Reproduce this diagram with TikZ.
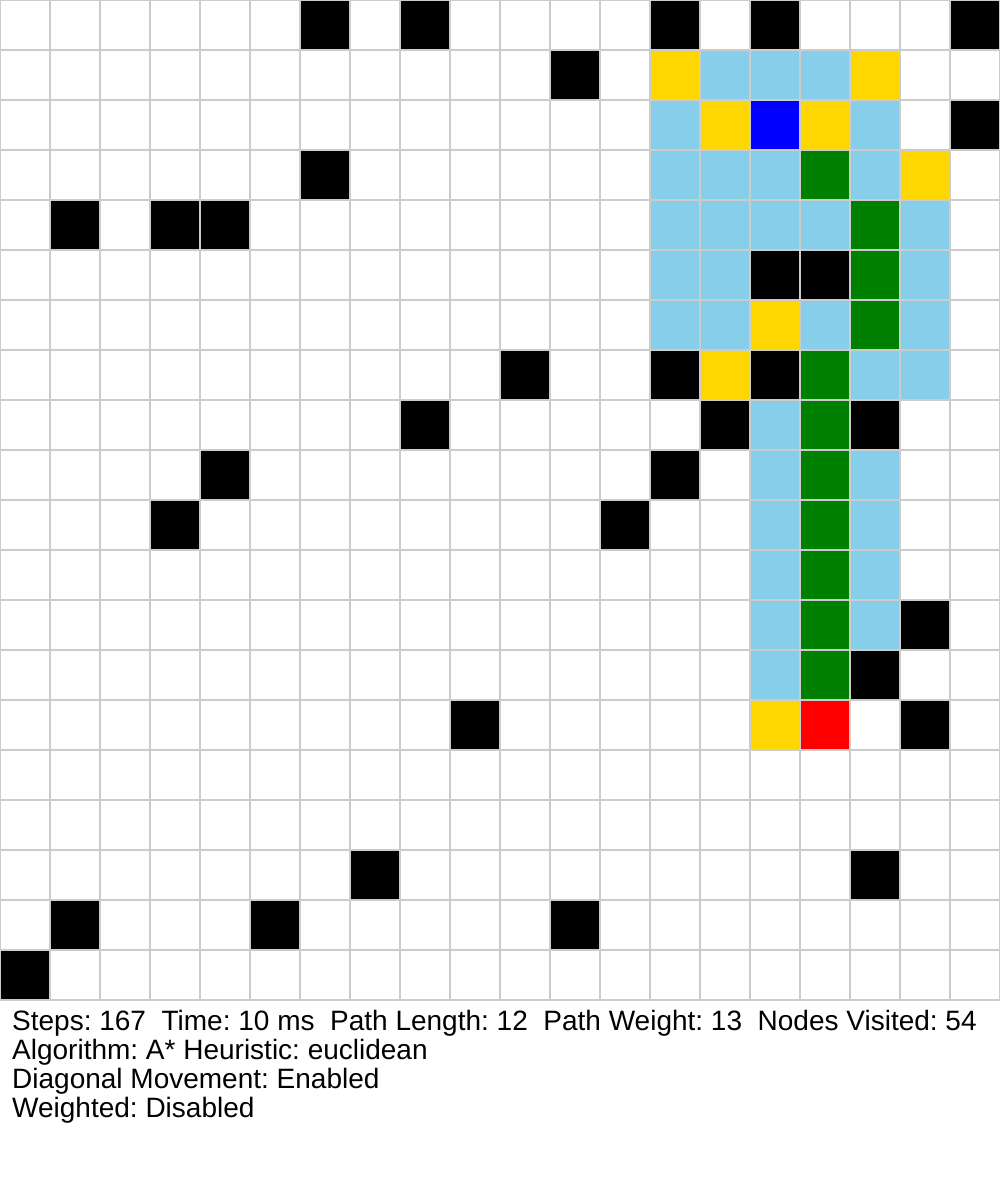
\documentclass[tikz,border=0pt]{standalone}
\usepackage{fontspec}
\setmainfont{Liberation Sans}
\frenchspacing
\definecolor{gridline}{HTML}{CCCCCC}
\definecolor{visited}{HTML}{87CEEB}
\definecolor{frontier}{HTML}{FFD700}
\definecolor{startc}{HTML}{0000FF}
\definecolor{pathc}{HTML}{008000}
\definecolor{endc}{HTML}{FF0000}
\begin{document}
\begin{tikzpicture}[x=1pt,y=-1pt,
  cell/.style={fill=#1},
  info/.style={anchor=base west,inner sep=0pt,font=\fontsize{28}{29}\selectfont}]
\useasboundingbox (0,0) rectangle (1000,1200);
\fill[white] (0,0) rectangle (1000,1200);
% walls (col,row)
\foreach \c/\r in {6/0,8/0,13/0,15/0,19/0,11/1,19/2,6/3,1/4,3/4,4/4,15/5,16/5,10/7,13/7,15/7,8/8,14/8,17/8,4/9,13/9,3/10,12/10,18/12,17/13,9/14,18/14,7/17,17/17,1/18,5/18,11/18,0/19}
  \fill[black] (50*\c,50*\r) rectangle ++(50,50);
% visited
\foreach \c/\r in {14/1,15/1,16/1,13/2,17/2,13/3,14/3,15/3,17/3,13/4,14/4,15/4,16/4,18/4,13/5,14/5,18/5,13/6,14/6,16/6,18/6,17/7,18/7,15/8,15/9,17/9,15/10,17/10,15/11,17/11,15/12,17/12,15/13}
  \fill[visited] (50*\c,50*\r) rectangle ++(50,50);
% frontier
\foreach \c/\r in {13/1,17/1,14/2,16/2,18/3,15/6,14/7,15/14}
  \fill[frontier] (50*\c,50*\r) rectangle ++(50,50);
% path
\foreach \c/\r in {16/3,17/4,17/5,17/6,16/7,16/8,16/9,16/10,16/11,16/12,16/13}
  \fill[pathc] (50*\c,50*\r) rectangle ++(50,50);
\fill[startc] (750,100) rectangle ++(50,50);
\fill[endc] (800,700) rectangle ++(50,50);
% grid
\foreach \i in {0,...,20} {
  \draw[gridline,line width=1.5pt] (50*\i,0) -- (50*\i,1000);
  \draw[gridline,line width=1.5pt] (0,50*\i) -- (1000,50*\i);
}
\node[info] (l1) at (12,1030) {Steps: 167\ \ Time: 10 ms\ \ Path Length: 12\ \ Path Weight: 13\ \ Nodes Visited: 54};
\node[info] (l2) at (12,1059) {Algorithm: A* Heuristic: euclidean};
\node[info] (l3) at (12,1088) {Diagonal Movement: Enabled};
\node[info] (l4) at (12,1117) {Weighted: Disabled};
\end{tikzpicture}
\end{document}
